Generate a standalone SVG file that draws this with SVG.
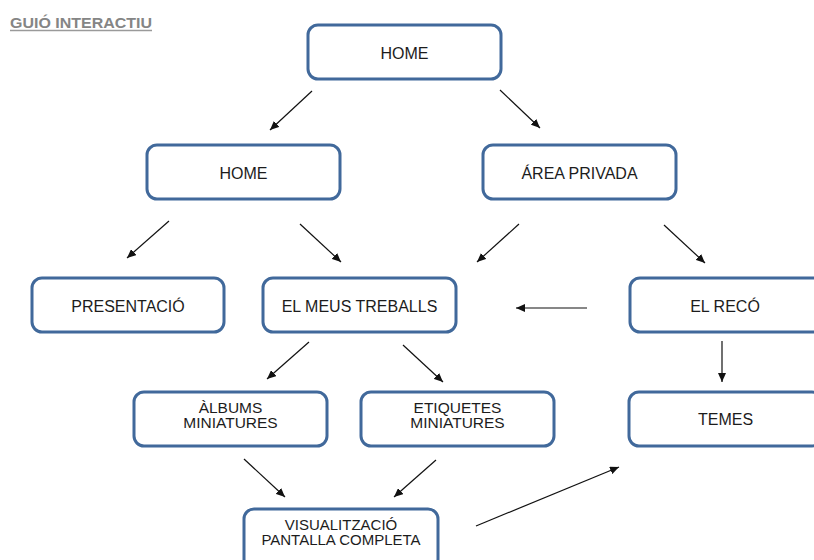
<svg xmlns="http://www.w3.org/2000/svg" width="814" height="560" viewBox="0 0 814 560">
<style>
.box{fill:#fff;stroke:#41699b;stroke-width:3}
.lbl{font-family:"Liberation Sans",Arial,sans-serif;font-size:16px;fill:#1c1c1c;text-anchor:middle}
.lbl2{font-family:"Liberation Sans",Arial,sans-serif;font-size:15.5px;fill:#1c1c1c;text-anchor:middle}
.lbl3{font-family:"Liberation Sans",Arial,sans-serif;font-size:15px;fill:#1c1c1c;text-anchor:middle}
.title{font-family:"Liberation Sans",Arial,sans-serif;font-size:14.5px;font-weight:bold;fill:#858585}
.arr{stroke:#111;stroke-width:1.2;fill:none;marker-end:url(#ah)}
</style>
<defs>
<marker id="ah" markerUnits="userSpaceOnUse" markerWidth="10" markerHeight="8" refX="9" refY="4" orient="auto">
<path d="M0,0 L9,4 L0,8 Z" fill="#111"/>
</marker>
</defs>
<rect width="814" height="560" fill="#fff"/>
<g id="title">
<text class="title" x="10" y="28" textLength="142" lengthAdjust="spacingAndGlyphs">GUIÓ INTERACTIU</text>
<line x1="10" y1="30.5" x2="152" y2="30.5" stroke="#9a9a9a" stroke-width="1.3"/>
</g>
<g id="connectors">
<line class="arr" x1="312" y1="91" x2="270" y2="130"/>
<line class="arr" x1="500" y1="90" x2="540" y2="128"/>
<line class="arr" x1="169" y1="221" x2="127" y2="258"/>
<line class="arr" x1="300" y1="224" x2="341" y2="262"/>
<line class="arr" x1="519" y1="224" x2="477" y2="262"/>
<line class="arr" x1="664" y1="225" x2="705" y2="263"/>
<line class="arr" x1="587" y1="308" x2="516" y2="308"/>
<line class="arr" x1="722" y1="341" x2="722" y2="382"/>
<line class="arr" x1="309" y1="342" x2="267" y2="379"/>
<line class="arr" x1="403" y1="345" x2="443" y2="382"/>
<line class="arr" x1="244" y1="459" x2="285" y2="497"/>
<line class="arr" x1="436" y1="460" x2="394" y2="497"/>
<line class="arr" x1="476" y1="526" x2="619" y2="467"/>
</g>
<g id="home-top">
<rect class="box" x="308" y="25" width="193" height="54" rx="10"/>
<text class="lbl" x="404.5" y="58.5">HOME</text>
</g>
<g id="home">
<rect class="box" x="147" y="145" width="193" height="54" rx="10"/>
<text class="lbl" x="243.5" y="178.5">HOME</text>
</g>
<g id="area-privada">
<rect class="box" x="483" y="145" width="193" height="54" rx="10"/>
<text class="lbl" x="579.5" y="178.5">ÁREA PRIVADA</text>
</g>
<g id="presentacio">
<rect class="box" x="32" y="278" width="192" height="54" rx="10"/>
<text class="lbl" x="128" y="311.5">PRESENTACIÓ</text>
</g>
<g id="meus-treballs">
<rect class="box" x="263" y="278" width="193" height="54" rx="10"/>
<text class="lbl" x="359.5" y="311.5">EL MEUS TREBALLS</text>
</g>
<g id="el-reco">
<rect class="box" x="630" y="278" width="193" height="54" rx="10"/>
<text class="lbl" x="725" y="311.5">EL RECÓ</text>
</g>
<g id="albums">
<rect class="box" x="134" y="392" width="193" height="54" rx="10"/>
<text class="lbl2" x="230.5" y="412.5">ÀLBUMS</text>
<text class="lbl2" x="230.5" y="428">MINIATURES</text>
</g>
<g id="etiquetes">
<rect class="box" x="361" y="392" width="193" height="54" rx="10"/>
<text class="lbl2" x="457.5" y="412.5">ETIQUETES</text>
<text class="lbl2" x="457.5" y="428">MINIATURES</text>
</g>
<g id="temes">
<rect class="box" x="629" y="392" width="193" height="54" rx="10"/>
<text class="lbl" x="725.5" y="425">TEMES</text>
</g>
<g id="visualitzacio">
<rect class="box" x="244" y="509" width="194" height="60" rx="10"/>
<text class="lbl3" x="341" y="529.5">VISUALITZACIÓ</text>
<text class="lbl3" x="341" y="545">PANTALLA COMPLETA</text>
</g>
</svg>
